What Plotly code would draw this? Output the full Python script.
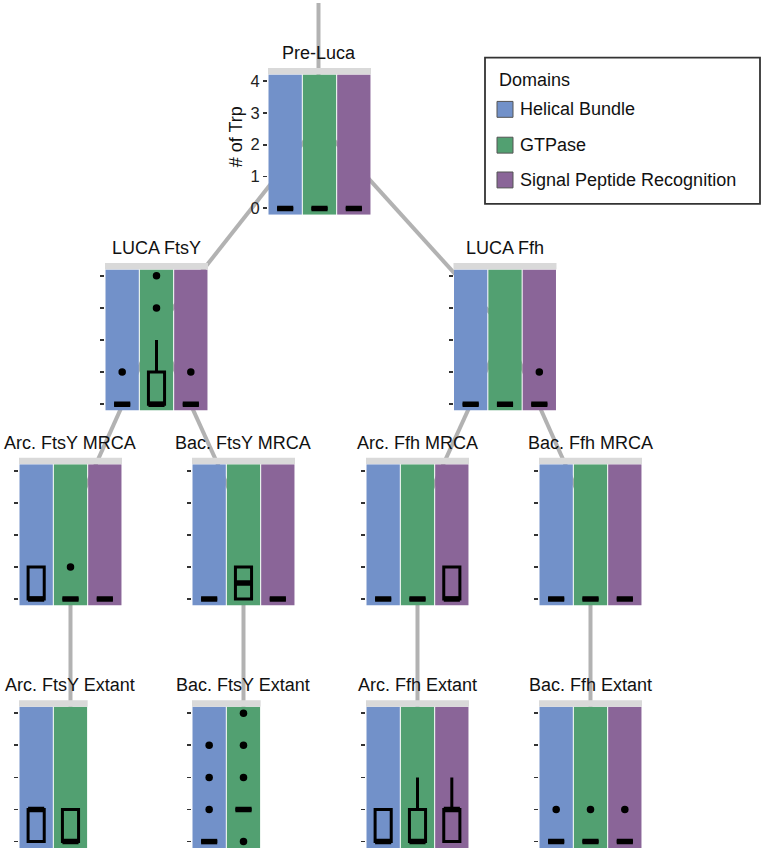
import plotly.graph_objects as go

# ---------------- data ----------------
domains = ["Helical Bundle", "GTPase", "Signal Peptide Recognition"]
domain_colors = ["#7291C9", "#52A071", "#8A6598"]

panel_names = ["Pre-Luca", "LUCA FtsY", "LUCA Ffh",
               "Arc. FtsY MRCA", "Bac. FtsY MRCA", "Arc. Ffh MRCA", "Bac. Ffh MRCA",
               "Arc. FtsY Extant", "Bac. FtsY Extant", "Arc. Ffh Extant", "Bac. Ffh Extant"]
panel_domain_count = [3, 3, 3, 3, 3, 3, 3, 2, 2, 3, 3]

trp_q1 = [[0, 0, 0], [0, 0, 0], [0, 0, 0], [0, 0, 0], [0, 0, 0], [0, 0, 0], [0, 0, 0],
          [0, 0], [0, 1], [0, 0, 0], [0, 0, 0]]
trp_median = [[0, 0, 0], [0, 0, 0], [0, 0, 0], [0, 0, 0], [0, 0.5, 0], [0, 0, 0], [0, 0, 0],
              [1, 0], [0, 1], [0, 0, 1], [0, 0, 0]]
trp_q3 = [[0, 0, 0], [0, 1, 0], [0, 0, 0], [1, 0, 0], [0, 1, 0], [0, 0, 1], [0, 0, 0],
          [1, 1], [0, 1], [1, 1, 1], [0, 0, 0]]
trp_upper = [[0, 0, 0], [0, 2, 0], [0, 0, 0], [1, 0, 0], [0, 1, 0], [0, 0, 1], [0, 0, 0],
             [1, 1], [0, 1], [1, 2, 2], [0, 0, 0]]
trp_outliers = [[[], [], []], [[1], [3, 4], [1]], [[], [], [1]],
                [[], [1], []], [[], [], []], [[], [], []], [[], [], []],
                [[], []], [[1, 2, 3], [0, 2, 3, 4]], [[], [], []], [[1], [1], [1]]]
y_ticks = [0, 1, 2, 3, 4]

# tree edges (parent -> child), index into panel_names
tree_edges = [(0, 1), (0, 2), (1, 3), (1, 4), (2, 5), (2, 6), (3, 7), (4, 8), (5, 9), (6, 10)]

# ---------------- layout geometry (pixels) ----------------
W, H = 766, 850
Y_MIN, Y_MAX = -0.2, 4.2
ROW_TOP = [72, 268, 464, 708]
ROW_BOT = [213, 410, 606, 850]
STRIP_H = 6.5
COL_W = 34.33
panel_left = [268, 105, 453.5, 19, 192, 366, 539, 19, 192, 366, 539]
panel_row = [0, 1, 1, 2, 2, 2, 2, 3, 3, 3, 3]
node_y = [121, 328, 328, 521, 521, 521, 521, 770, 770, 770, 770]

def px(x):
    return x / W

def py(y):
    return 1 - y / H

fig = go.Figure()
shapes = []
annotations = []

LINE_COLOR = "#B2B2B2"
node_x = [panel_left[i] + 1.5 * COL_W for i in range(len(panel_names))]
node_x[0] = 318.5

# connection lines (drawn below panels)
shapes.append(dict(type="line", xref="paper", yref="paper",
                   x0=px(node_x[0]), x1=px(node_x[0]), y0=py(0), y1=py(node_y[0]),
                   line=dict(color=LINE_COLOR, width=4), layer="below"))
for a, b in tree_edges:
    shapes.append(dict(type="line", xref="paper", yref="paper",
                       x0=px(node_x[a]), y0=py(node_y[a]), x1=px(node_x[b]), y1=py(node_y[b]),
                       line=dict(color=LINE_COLOR, width=4), layer="below"))

BOX_W = 0.47
for i, name in enumerate(panel_names):
    n = panel_domain_count[i]
    r = panel_row[i]
    k = i + 1
    xa = "x" if k == 1 else f"x{k}"
    ya = "y" if k == 1 else f"y{k}"
    left = panel_left[i]
    right = left + n * COL_W
    top, bot = ROW_TOP[r], ROW_BOT[r]
    xs = list(range(n))

    # background columns per domain
    fig.add_trace(go.Bar(x=xs, y=[Y_MAX - Y_MIN] * n, base=Y_MIN, width=0.97,
                         marker=dict(color=domain_colors[:n], line=dict(width=0)),
                         hoverinfo="skip", showlegend=False, xaxis=xa, yaxis=ya))
    # boxes
    fig.add_trace(go.Box(x=xs, q1=trp_q1[i], median=trp_median[i], q3=trp_q3[i],
                         lowerfence=trp_q1[i], upperfence=trp_upper[i],
                         width=BOX_W, whiskerwidth=0, boxpoints=False,
                         line=dict(color="black", width=3), fillcolor="rgba(0,0,0,0)",
                         showlegend=False, hoverinfo="skip", xaxis=xa, yaxis=ya))
    # thicker median bars
    mx, my = [], []
    for j in range(n):
        mx += [j - BOX_W / 2, j + BOX_W / 2, None]
        my += [trp_median[i][j], trp_median[i][j], None]
    fig.add_trace(go.Scatter(x=mx, y=my, mode="lines", line=dict(color="black", width=5.5),
                             showlegend=False, hoverinfo="skip", xaxis=xa, yaxis=ya))
    # outliers
    ox, oy = [], []
    for j in range(n):
        for v in trp_outliers[i][j]:
            ox.append(j)
            oy.append(v)
    if ox:
        fig.add_trace(go.Scatter(x=ox, y=oy, mode="markers",
                                 marker=dict(color="black", size=7.5),
                                 showlegend=False, hoverinfo="skip", xaxis=xa, yaxis=ya))

    xaxis_key = "xaxis" if k == 1 else f"xaxis{k}"
    yaxis_key = "yaxis" if k == 1 else f"yaxis{k}"
    fig.layout[xaxis_key] = dict(domain=[px(left), px(right)], range=[-0.5, n - 0.5],
                                 showticklabels=False, showgrid=False, zeroline=False,
                                 showline=False, ticks="", anchor=ya, fixedrange=True)
    fig.layout[yaxis_key] = dict(domain=[py(bot), py(top)], range=[Y_MIN, Y_MAX],
                                 tickvals=y_ticks, ticktext=[str(t) for t in y_ticks],
                                 showticklabels=(i == 0), ticks="outside", ticklen=4,
                                 tickwidth=1.8, tickcolor="#333333",
                                 tickfont=dict(size=16.5, color="#222222"),
                                 showgrid=False, zeroline=False, showline=False,
                                 anchor=xa, fixedrange=True)

    # strip
    shapes.append(dict(type="rect", xref="paper", yref="paper",
                       x0=px(left), x1=px(right), y0=py(top), y1=py(top - STRIP_H),
                       fillcolor="#D9D9D9", line=dict(width=0), layer="below"))
    # title
    annotations.append(dict(text=name, xref="paper", yref="paper",
                            x=px(node_x[i]), y=py(top - STRIP_H - 3),
                            xanchor="center", yanchor="bottom", showarrow=False,
                            font=dict(size=18, color="#111111")))

# y axis title on the first panel
annotations.append(dict(text="# of Trp", xref="paper", yref="paper", x=px(236), y=py(135),
                        textangle=-90, xanchor="center", yanchor="middle", showarrow=False,
                        font=dict(size=18, color="#111111")))

# legend (manual)
shapes.append(dict(type="rect", xref="paper", yref="paper", x0=px(485), x1=px(760),
                   y0=py(202), y1=py(55), line=dict(color="#333333", width=1.8),
                   fillcolor="white", layer="above"))
annotations.append(dict(text="Domains", xref="paper", yref="paper", x=px(497), y=py(77),
                        xanchor="left", yanchor="middle", showarrow=False,
                        font=dict(size=18, color="#111111")))
legend_y = [107, 143, 178]
for d, (lab, col) in enumerate(zip(domains, domain_colors)):
    cy = legend_y[d]
    shapes.append(dict(type="rect", xref="paper", yref="paper", x0=px(497), x1=px(513),
                       y0=py(cy + 8), y1=py(cy - 8), fillcolor=col,
                       line=dict(color="#555555", width=1), layer="above"))
    annotations.append(dict(text=lab, xref="paper", yref="paper", x=px(518), y=py(cy),
                            xanchor="left", yanchor="middle", showarrow=False,
                            font=dict(size=18, color="#111111")))

fig.update_layout(width=W, height=H, margin=dict(l=0, r=0, t=0, b=0),
                  paper_bgcolor="white", plot_bgcolor="rgba(0,0,0,0)",
                  font=dict(family="Liberation Sans, Arial, sans-serif"),
                  shapes=shapes, annotations=annotations, showlegend=False,
                  barmode="overlay", boxmode="overlay")

fig.write_html("out.html", config={"displayModeBar": False, "staticPlot": True},
               post_script="document.body.style.margin='0px';document.body.style.overflow='hidden';")
